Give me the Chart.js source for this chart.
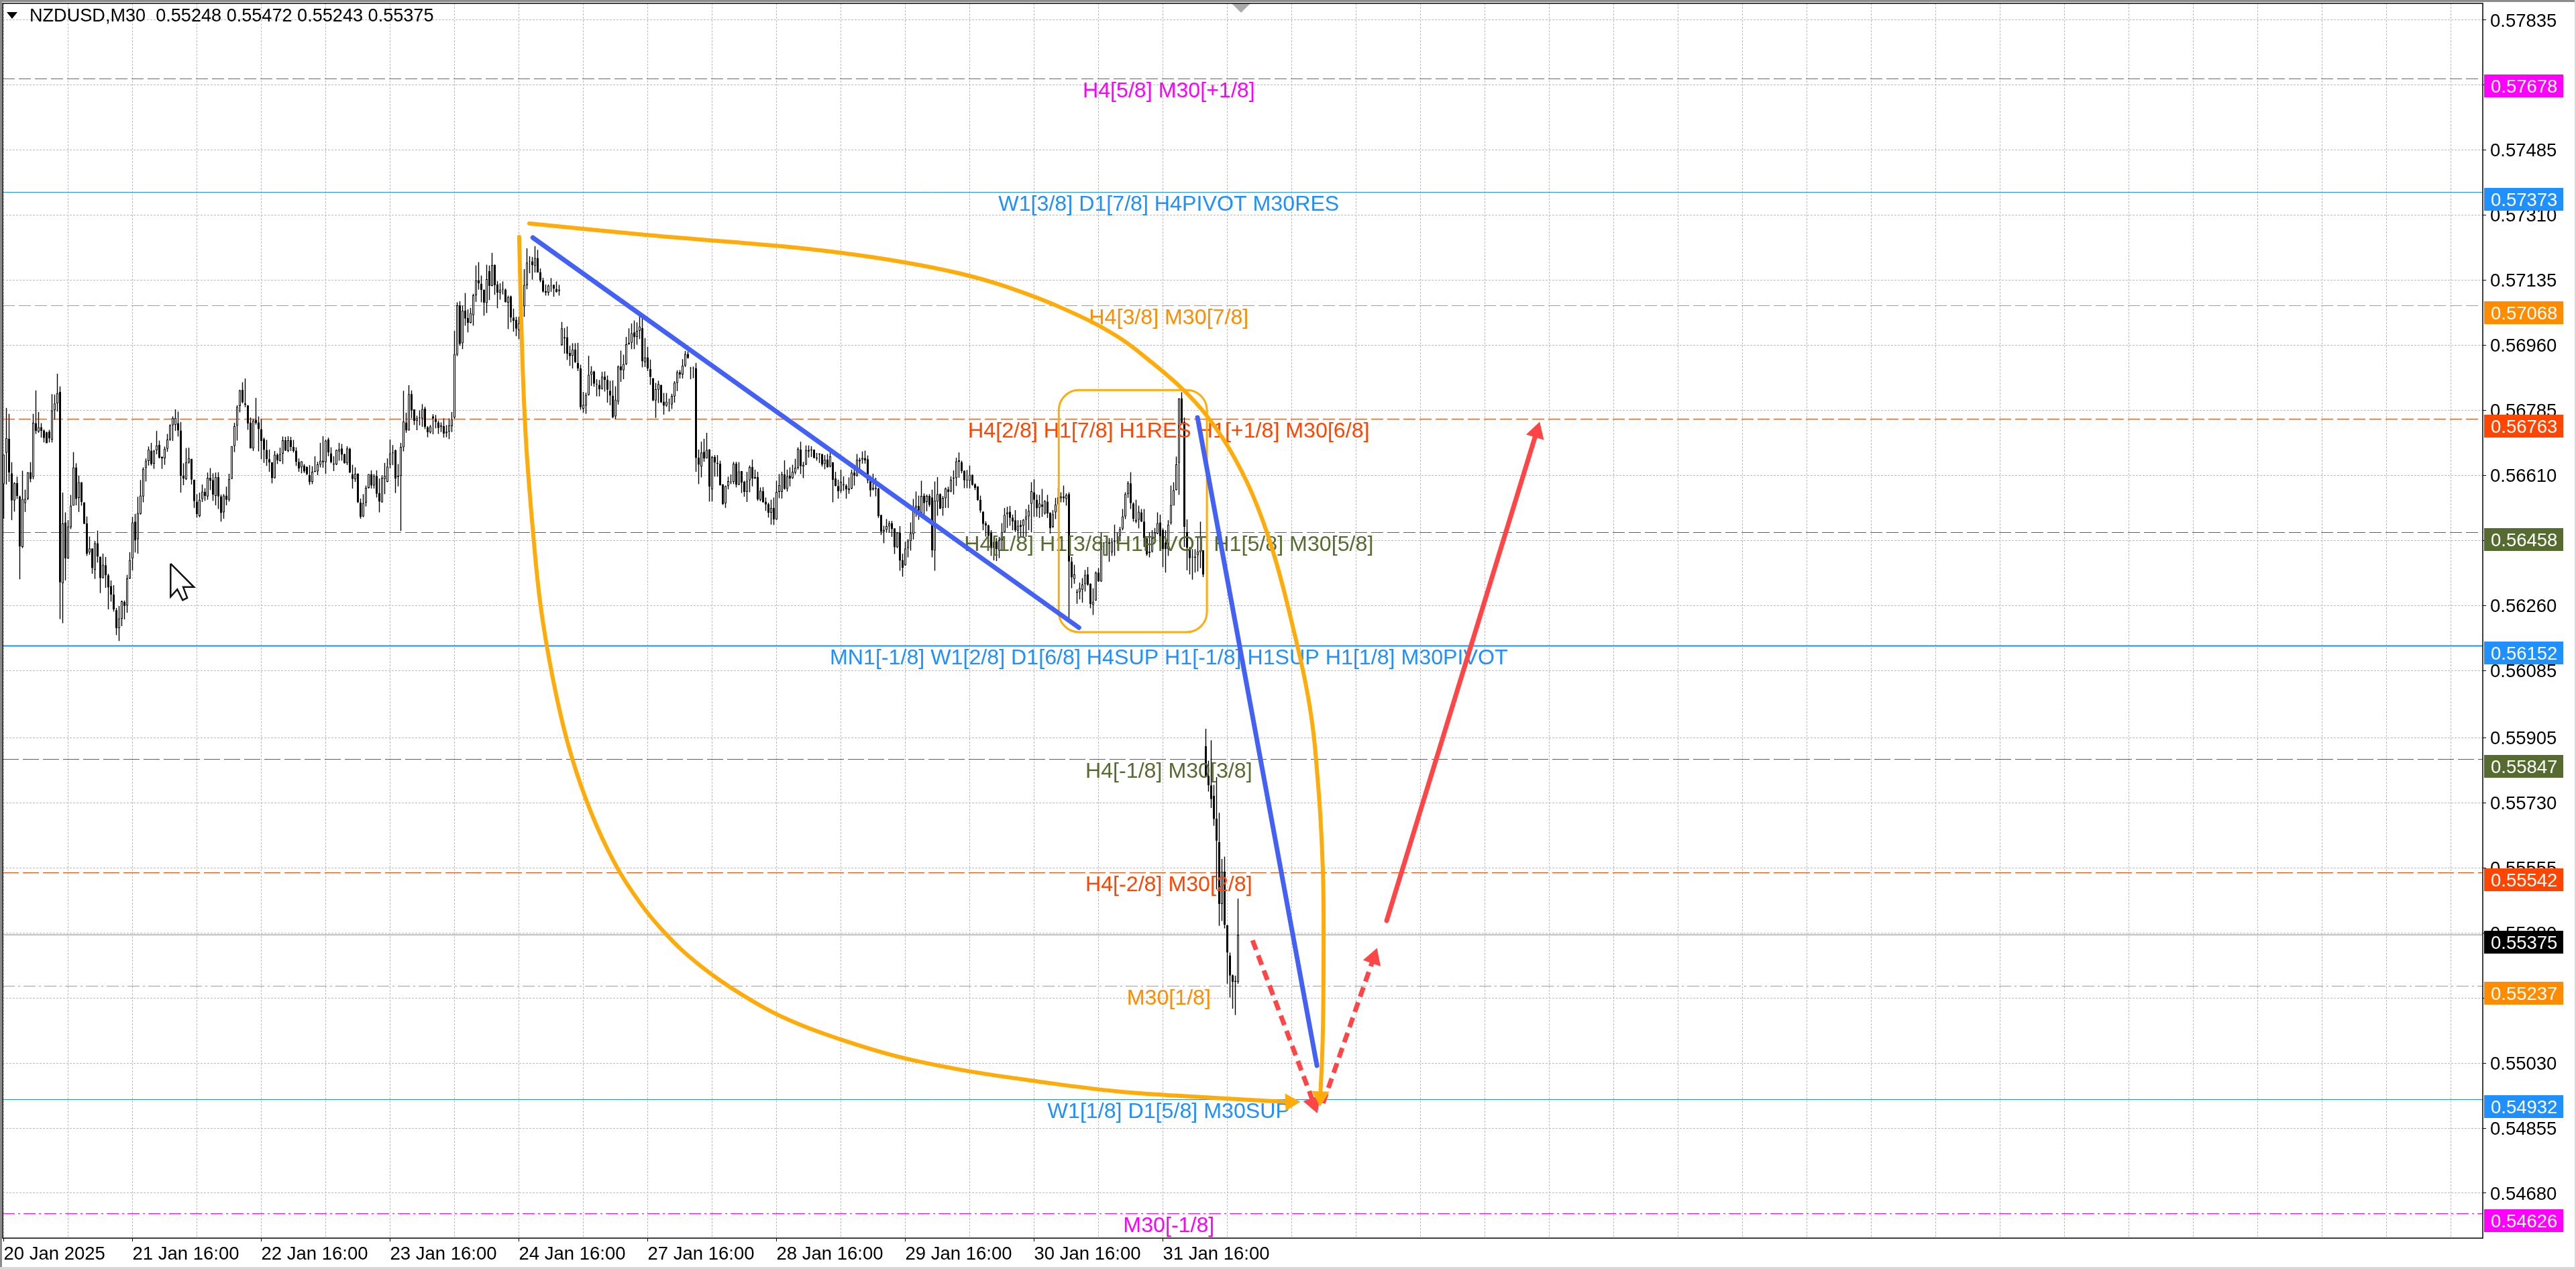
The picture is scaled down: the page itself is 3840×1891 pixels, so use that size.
<!DOCTYPE html>
<html>
<head>
<meta charset="utf-8">
<title>NZDUSD,M30</title>
<script src="https://cdn.jsdelivr.net/npm/chart.js@4/dist/chart.umd.js"></script>
<style>
	html, body { margin: 0; padding: 0; background: #fff; }
	canvas { display: block; }
</style>
</head>
<body>
<canvas id="chart" width="3840" height="1891"></canvas>
<script>
// candles, in points (1 point = 0.00001), one entry per M30 bar, ten bars a line
const opens = [
	56587, 56671, 56709, 56616, 56543, 56590, 56554, 56418, 56536, 56548,
	56619, 56606, 56751, 56728, 56740, 56731, 56726, 56728, 56707, 56786,
	56804, 56835, 56320, 56484, 56387, 56471, 56529, 56632, 56550, 56592,
	56538, 56481, 56403, 56414, 56356, 56428, 56392, 56334, 56369, 56342,
	56313, 56290, 56248, 56199, 56225, 56270, 56260, 56333, 56387, 56486,
	56439, 56507, 56554, 56630, 56649, 56677, 56642, 56678, 56693, 56661,
	56656, 56682, 56707, 56745, 56746, 56751, 56731, 56610, 56600, 56645,
	56655, 56599, 56540, 56501, 56547, 56566, 56554, 56604, 56598, 56555,
	56606, 56554, 56511, 56556, 56545, 56601, 56689, 56744, 56797, 56841,
	56804, 56799, 56752, 56683, 56760, 56753, 56735, 56708, 56679, 56654,
	56646, 56603, 56666, 56649, 56669, 56705, 56676, 56705, 56687, 56677,
	56647, 56632, 56637, 56633, 56611, 56593, 56622, 56621, 56639, 56650,
	56646, 56707, 56670, 56642, 56640, 56675, 56683, 56667, 56643, 56682,
	56613, 56600, 56615, 56537, 56500, 56537, 56577, 56614, 56583, 56609,
	56563, 56538, 56601, 56593, 56639, 56670, 56678, 56606, 56609, 56686,
	56753, 56731, 56829, 56788, 56757, 56766, 56763, 56790, 56740, 56726,
	56769, 56763, 56753, 56740, 56743, 56724, 56728, 56743, 56766, 56935,
	57068, 56966, 57054, 57034, 57021, 57041, 57095, 57135, 57126, 57110,
	57074, 57160, 57120, 57176, 57124, 57102, 57112, 57110, 57075, 57092,
	57035, 57029, 57001, 57004, 57065, 57122, 57185, 57186, 57174, 57195,
	57157, 57135, 57106, 57102, 57120, 57123, 57112, 57106, 56961, 56982,
	56982, 56940, 56932, 56949, 56913, 56898, 56790, 56798, 56827, 56881,
	56890, 56856, 56854, 56843, 56876, 56868, 56838, 56825, 56769, 56809,
	56904, 56893, 56910, 56963, 56967, 56995, 56983, 56999, 57007, 56915,
	56928, 56897, 56872, 56812, 56841, 56854, 56809, 56798, 56806, 56801,
	56823, 56859, 56888, 56882, 56906, 56937, 56899, 56899, 56899, 56658,
	56634, 56674, 56656, 56680, 56573, 56660, 56644, 56642, 56586, 56535,
	56582, 56592, 56593, 56642, 56585, 56622, 56593, 56566, 56597, 56633,
	56602, 56606, 56545, 56568, 56540, 56533, 56510, 56523, 56492, 56566,
	56566, 56613, 56574, 56610, 56603, 56618, 56631, 56680, 56634, 56639,
	56679, 56680, 56680, 56658, 56669, 56667, 56641, 56653, 56634, 56646,
	56602, 56582, 56569, 56586, 56583, 56571, 56575, 56618, 56610, 56652,
	56653, 56657, 56654, 56598, 56572, 56577, 56575, 56504, 56459, 56464,
	56473, 56482, 56468, 56417, 56457, 56383, 56369, 56415, 56434, 56453,
	56522, 56528, 56510, 56556, 56539, 56555, 56551, 56408, 56540, 56560,
	56523, 56549, 56573, 56567, 56602, 56603, 56651, 56646, 56623, 56599,
	56596, 56612, 56587, 56581, 56545, 56513, 56481, 56476, 56456, 56432,
	56433, 56408, 56436, 56458, 56506, 56513, 56497, 56490, 56462, 56477,
	56475, 56491, 56500, 56534, 56565, 56545, 56523, 56532, 56508, 56540,
	56510, 56472, 56511, 56532, 56549, 56554, 56547, 56560, 56379, 56332,
	56297, 56296, 56303, 56318, 56344, 56319, 56262, 56274, 56349, 56325,
	56428, 56429, 56427, 56403, 56432, 56435, 56448, 56467, 56500, 56560,
	56589, 56535, 56486, 56491, 56511, 56486, 56442, 56402, 56406, 56442,
	56454, 56484, 56464, 56430, 56412, 56482, 56529, 56571, 56644, 56818,
	56754, 56458, 56415, 56392, 56389, 56396, 56404, 56409, 55882, 55802,
	55777, 55749, 55687, 55624, 55458, 55545, 55401, 55319, 55266, 55251,
	55248
];
const highs = [
	56666, 56792, 56776, 56646, 56592, 56607, 56556, 56623, 56572, 56619,
	56646, 56776, 56839, 56781, 56751, 56734, 56728, 56733, 56829, 56828,
	56884, 56850, 56564, 56511, 56490, 56558, 56673, 56643, 56610, 56592,
	56538, 56500, 56446, 56414, 56434, 56462, 56392, 56400, 56391, 56346,
	56328, 56315, 56254, 56259, 56274, 56274, 56343, 56404, 56499, 56507,
	56553, 56598, 56632, 56656, 56688, 56698, 56679, 56730, 56704, 56661,
	56688, 56722, 56748, 56769, 56788, 56782, 56754, 56643, 56684, 56685,
	56655, 56599, 56560, 56564, 56586, 56576, 56618, 56630, 56616, 56618,
	56619, 56559, 56560, 56580, 56615, 56689, 56752, 56799, 56841, 56861,
	56871, 56799, 56766, 56763, 56819, 56769, 56762, 56712, 56706, 56680,
	56646, 56676, 56670, 56685, 56715, 56714, 56716, 56714, 56706, 56686,
	56656, 56649, 56641, 56635, 56638, 56635, 56662, 56647, 56698, 56716,
	56707, 56712, 56686, 56662, 56680, 56698, 56695, 56669, 56689, 56685,
	56639, 56632, 56616, 56548, 56560, 56583, 56614, 56624, 56614, 56624,
	56602, 56611, 56644, 56656, 56707, 56692, 56680, 56641, 56698, 56838,
	56779, 56853, 56839, 56788, 56771, 56785, 56802, 56795, 56743, 56746,
	56775, 56773, 56758, 56753, 56764, 56746, 56764, 56781, 56999, 57076,
	57079, 57067, 57101, 57057, 57061, 57099, 57175, 57184, 57148, 57110,
	57177, 57175, 57209, 57178, 57133, 57127, 57132, 57113, 57094, 57094,
	57059, 57037, 57037, 57070, 57165, 57221, 57200, 57198, 57227, 57217,
	57167, 57142, 57124, 57124, 57141, 57124, 57132, 57123, 57023, 57007,
	57011, 56959, 56966, 56966, 56967, 56908, 56835, 56833, 56932, 56904,
	56892, 56869, 56867, 56889, 56890, 56879, 56865, 56866, 56850, 56906,
	56946, 56935, 56983, 57006, 57019, 57027, 57022, 57040, 57034, 56980,
	56956, 56922, 56872, 56859, 56865, 56854, 56832, 56832, 56817, 56830,
	56864, 56893, 56894, 56923, 56945, 56944, 56902, 56903, 56913, 56680,
	56701, 56709, 56725, 56681, 56663, 56665, 56665, 56650, 56587, 56583,
	56607, 56613, 56647, 56647, 56646, 56622, 56596, 56620, 56637, 56653,
	56626, 56620, 56578, 56579, 56551, 56537, 56545, 56551, 56596, 56614,
	56620, 56651, 56626, 56632, 56639, 56655, 56686, 56701, 56647, 56691,
	56691, 56689, 56680, 56671, 56670, 56669, 56665, 56668, 56673, 56646,
	56620, 56599, 56626, 56608, 56587, 56605, 56626, 56634, 56668, 56658,
	56675, 56677, 56664, 56610, 56615, 56604, 56577, 56504, 56475, 56493,
	56488, 56488, 56468, 56458, 56474, 56400, 56432, 56439, 56484, 56547,
	56567, 56556, 56596, 56562, 56559, 56560, 56572, 56594, 56606, 56562,
	56555, 56578, 56580, 56608, 56624, 56658, 56672, 56650, 56624, 56625,
	56637, 56613, 56589, 56581, 56556, 56514, 56487, 56478, 56463, 56445,
	56442, 56445, 56482, 56523, 56526, 56528, 56505, 56517, 56490, 56490,
	56493, 56520, 56532, 56592, 56600, 56559, 56558, 56574, 56544, 56558,
	56511, 56517, 56550, 56577, 56565, 56583, 56562, 56565, 56391, 56370,
	56304, 56322, 56334, 56356, 56364, 56320, 56307, 56352, 56361, 56457,
	56430, 56445, 56442, 56442, 56478, 56457, 56472, 56520, 56565, 56595,
	56619, 56538, 56545, 56529, 56520, 56520, 56442, 56457, 56463, 56469,
	56511, 56505, 56468, 56463, 56490, 56583, 56592, 56661, 56818, 56834,
	56766, 56492, 56418, 56412, 56412, 56445, 56486, 56409, 55929, 55843,
	55898, 55778, 55799, 55703, 55579, 55585, 55401, 55327, 55268, 55265,
	55472
];
const lows = [
	56494, 56586, 56593, 56490, 56513, 56547, 56331, 56415, 56512, 56544,
	56592, 56600, 56722, 56725, 56712, 56699, 56697, 56699, 56699, 56760,
	56782, 56224, 56213, 56328, 56386, 56466, 56529, 56530, 56512, 56529,
	56480, 56394, 56397, 56346, 56332, 56376, 56294, 56333, 56308, 56250,
	56271, 56244, 56181, 56165, 56205, 56223, 56241, 56332, 56355, 56403,
	56400, 56505, 56538, 56594, 56637, 56637, 56628, 56667, 56656, 56628,
	56639, 56674, 56703, 56703, 56730, 56715, 56564, 56584, 56598, 56642,
	56586, 56523, 56497, 56498, 56539, 56542, 56545, 56571, 56542, 56530,
	56520, 56486, 56494, 56530, 56540, 56601, 56673, 56704, 56780, 56804,
	56794, 56733, 56683, 56676, 56747, 56675, 56654, 56644, 56636, 56620,
	56589, 56602, 56641, 56648, 56641, 56676, 56673, 56676, 56672, 56636,
	56620, 56616, 56617, 56611, 56585, 56587, 56619, 56611, 56632, 56631,
	56615, 56662, 56643, 56622, 56638, 56650, 56650, 56642, 56638, 56617,
	56575, 56593, 56536, 56494, 56498, 56527, 56575, 56575, 56575, 56551,
	56511, 56537, 56560, 56592, 56629, 56638, 56563, 56581, 56461, 56675,
	56725, 56731, 56764, 56746, 56732, 56745, 56741, 56735, 56713, 56723,
	56721, 56737, 56722, 56727, 56712, 56713, 56708, 56727, 56763, 56931,
	56959, 56950, 57013, 56995, 57019, 57013, 57077, 57110, 57076, 57040,
	57047, 57082, 57119, 57096, 57060, 57083, 57097, 57076, 57004, 57022,
	56997, 56985, 56977, 56998, 57037, 57111, 57154, 57137, 57156, 57156,
	57130, 57102, 57094, 57094, 57104, 57091, 57102, 57094, 56959, 56938,
	56921, 56905, 56898, 56913, 56891, 56787, 56779, 56776, 56825, 56851,
	56849, 56823, 56823, 56841, 56836, 56806, 56799, 56764, 56762, 56801,
	56862, 56869, 56907, 56962, 56950, 56950, 56962, 56977, 56901, 56902,
	56891, 56854, 56810, 56765, 56805, 56805, 56774, 56795, 56782, 56789,
	56806, 56837, 56871, 56871, 56902, 56924, 56869, 56872, 56620, 56587,
	56605, 56647, 56656, 56540, 56540, 56607, 56607, 56583, 56531, 56523,
	56573, 56587, 56587, 56578, 56584, 56563, 56553, 56539, 56565, 56581,
	56601, 56542, 56541, 56537, 56515, 56497, 56478, 56477, 56491, 56549,
	56548, 56572, 56567, 56581, 56601, 56613, 56626, 56614, 56603, 56638,
	56658, 56660, 56656, 56650, 56644, 56634, 56627, 56631, 56632, 56538,
	56581, 56548, 56563, 56569, 56548, 56561, 56573, 56583, 56607, 56628,
	56642, 56642, 56589, 56553, 56570, 56554, 56496, 56450, 56428, 56456,
	56457, 56445, 56399, 56415, 56354, 56338, 56367, 56390, 56408, 56438,
	56499, 56491, 56508, 56496, 56514, 56526, 56390, 56354, 56502, 56520,
	56502, 56523, 56523, 56565, 56559, 56582, 56604, 56616, 56576, 56576,
	56575, 56583, 56571, 56542, 56510, 56463, 56446, 56430, 56394, 56382,
	56380, 56388, 56409, 56457, 56469, 56475, 56463, 56458, 56442, 56445,
	56442, 56445, 56463, 56457, 56499, 56499, 56496, 56499, 56505, 56496,
	56454, 56469, 56493, 56511, 56538, 56538, 56529, 56226, 56307, 56319,
	56265, 56277, 56268, 56298, 56314, 56253, 56235, 56273, 56324, 56324,
	56394, 56394, 56378, 56394, 56394, 56427, 56433, 56463, 56493, 56550,
	56520, 56486, 56482, 56468, 56485, 56418, 56394, 56390, 56403, 56439,
	56452, 56418, 56364, 56349, 56394, 56478, 56558, 56570, 56558, 56750,
	56418, 56355, 56344, 56330, 56349, 56352, 56361, 56337, 55801, 55760,
	55716, 55668, 55497, 55399, 55412, 55392, 55243, 55206, 55176, 55159,
	55243
];
const closes = [
	56666, 56711, 56618, 56543, 56590, 56555, 56419, 56547, 56547, 56619,
	56601, 56752, 56730, 56740, 56730, 56711, 56697, 56710, 56785, 56804,
	56832, 56323, 56481, 56387, 56473, 56529, 56632, 56547, 56592, 56539,
	56480, 56400, 56414, 56361, 56428, 56392, 56334, 56370, 56342, 56309,
	56290, 56250, 56199, 56226, 56272, 56259, 56333, 56383, 56484, 56435,
	56509, 56556, 56628, 56650, 56680, 56641, 56677, 56691, 56658, 56656,
	56682, 56707, 56745, 56765, 56765, 56731, 56609, 56602, 56646, 56657,
	56599, 56541, 56506, 56545, 56567, 56555, 56604, 56596, 56559, 56606,
	56554, 56509, 56556, 56545, 56601, 56689, 56743, 56795, 56839, 56807,
	56800, 56750, 56683, 56758, 56751, 56735, 56703, 56679, 56654, 56645,
	56603, 56666, 56651, 56668, 56705, 56677, 56705, 56687, 56676, 56647,
	56629, 56648, 56621, 56614, 56592, 56620, 56620, 56640, 56650, 56646,
	56704, 56672, 56646, 56640, 56679, 56681, 56666, 56643, 56683, 56618,
	56601, 56615, 56538, 56499, 56536, 56577, 56614, 56583, 56609, 56561,
	56540, 56604, 56609, 56634, 56670, 56672, 56602, 56610, 56687, 56755,
	56731, 56829, 56785, 56757, 56764, 56764, 56789, 56741, 56726, 56742,
	56763, 56754, 56738, 56745, 56723, 56728, 56745, 56762, 56937, 57068,
	56964, 57054, 57032, 57021, 57047, 57095, 57135, 57127, 57109, 57075,
	57138, 57120, 57176, 57122, 57102, 57110, 57110, 57076, 57090, 57035,
	57026, 57005, 57019, 57064, 57123, 57183, 57186, 57176, 57195, 57156,
	57134, 57105, 57102, 57121, 57121, 57113, 57104, 57110, 57006, 56979,
	56938, 56931, 56949, 56915, 56898, 56794, 56800, 56827, 56881, 56890,
	56857, 56855, 56842, 56876, 56867, 56841, 56825, 56767, 56814, 56903,
	56893, 56910, 56963, 56967, 56993, 56982, 56999, 57011, 56917, 56928,
	56898, 56875, 56812, 56842, 56856, 56807, 56798, 56809, 56805, 56824,
	56860, 56888, 56882, 56906, 56937, 56927, 56900, 56900, 56657, 56639,
	56672, 56656, 56679, 56580, 56660, 56645, 56642, 56584, 56533, 56582,
	56595, 56594, 56642, 56585, 56621, 56591, 56566, 56596, 56633, 56602,
	56606, 56546, 56569, 56538, 56532, 56510, 56523, 56492, 56566, 56584,
	56613, 56574, 56608, 56602, 56620, 56631, 56682, 56635, 56639, 56679,
	56675, 56678, 56657, 56656, 56667, 56639, 56653, 56633, 56662, 56598,
	56582, 56568, 56593, 56584, 56573, 56575, 56618, 56610, 56653, 56648,
	56657, 56651, 56597, 56570, 56577, 56574, 56501, 56459, 56464, 56474,
	56481, 56466, 56417, 56457, 56381, 56362, 56414, 56435, 56454, 56522,
	56529, 56514, 56555, 56536, 56555, 56531, 56409, 56543, 56560, 56521,
	56550, 56575, 56566, 56599, 56604, 56648, 56647, 56622, 56597, 56597,
	56612, 56585, 56577, 56544, 56516, 56480, 56476, 56448, 56415, 56415,
	56412, 56436, 56458, 56504, 56511, 56496, 56486, 56463, 56475, 56472,
	56491, 56500, 56515, 56568, 56545, 56522, 56535, 56526, 56541, 56508,
	56468, 56506, 56532, 56552, 56554, 56549, 56558, 56379, 56336, 56344,
	56295, 56307, 56317, 56343, 56316, 56264, 56271, 56349, 56326, 56430,
	56430, 56433, 56430, 56432, 56435, 56436, 56466, 56500, 56560, 56590,
	56536, 56494, 56491, 56513, 56486, 56442, 56398, 56406, 56442, 56457,
	56482, 56430, 56412, 56412, 56478, 56531, 56571, 56640, 56817, 56752,
	56472, 56416, 56388, 56390, 56392, 56406, 56409, 56344, 55801, 55777,
	55740, 55686, 55628, 55458, 55545, 55402, 55327, 55265, 55248, 55248,
	55375
];

const yTicks = [0.57835, 0.57660, 0.57485, 0.57310, 0.57135, 0.56960, 0.56785, 0.56610, 0.56435, 0.56260,
	0.56085, 0.55905, 0.55730, 0.55555, 0.55380, 0.55205, 0.55030, 0.54855, 0.54680];
const xTickLabels = ['20 Jan 2025', '21 Jan 16:00', '22 Jan 16:00', '23 Jan 16:00', '24 Jan 16:00',
	'27 Jan 16:00', '28 Jan 16:00', '29 Jan 16:00', '30 Jan 16:00', '31 Jan 16:00'];

// murrey style levels
const levelPrices = [0.57678, 0.57373, 0.57068, 0.56763, 0.56458, 0.56152, 0.55847, 0.55542, 0.55237, 0.54932, 0.54626];
const levelColors = ['#FF00FF', '#1E90FF', '#FF8C00', '#FF4500', '#556B2F', '#1E90FF', '#556B2F', '#FF4500', '#FF8C00', '#1E90FF', '#FF00FF'];
const levelTexts = [
	'H4[5/8] M30[+1/8]',
	'W1[3/8] D1[7/8] H4PIVOT M30RES',
	'H4[3/8] M30[7/8]',
	'H4[2/8] H1[7/8] H1RES H1[+1/8] M30[6/8]',
	'H4[1/8] H1[3/8] H1PIVOT H1[5/8] M30[5/8]',
	'MN1[-1/8] W1[2/8] D1[6/8] H4SUP H1[-1/8] H1SUP H1[1/8] M30PIVOT',
	'H4[-1/8] M30[3/8]',
	'H4[-2/8] M30[2/8]',
	'M30[1/8]',
	'W1[1/8] D1[5/8] M30SUP',
	'M30[-1/8]'
];
const levelDashes = [[18, 6], [], [18, 6], [18, 6], [18, 6], [], [24, 6], [24, 6], [18, 5, 3, 5], [], [18, 5, 3, 5]];
const levelWidths = [1, 1, 1, 1, 1, 2, 1, 1, 1, 1, 1];
const lastPrice = 0.55375;

// hand drawn objects, x in bars, y in price
const curveDownBars = [192.1, 193.1, 194.6, 197.1, 200.1, 204.6, 210.1, 216.9, 225.1, 234.6, 246.4, 259.4, 275.1, 292.9, 312.1, 333.9, 358.1, 384.9, 414.9, 447.1, 479.5];
const curveDownPrices = [0.57252, 0.56968, 0.56708, 0.56472, 0.56259, 0.56066, 0.55893, 0.55741, 0.55604, 0.55487, 0.55380, 0.55293, 0.55214, 0.55145, 0.55093, 0.55046, 0.55010, 0.54981, 0.54954, 0.54938, 0.54925];
const curveOverBars = [195.9, 239.9, 288.1, 312.1, 336.1, 356.1, 373.6, 394.9, 414.4, 427.9, 439.4, 447.9, 456.9, 465.4, 472.9, 479.9, 486.6, 489.9, 491.6, 491.9, 491.6, 490.7];
const curveOverPrices = [0.57288, 0.57257, 0.57228, 0.57209, 0.57183, 0.57154, 0.57118, 0.57059, 0.56987, 0.56914, 0.56842, 0.56775, 0.56680, 0.56559, 0.56409, 0.56219, 0.55994, 0.55774, 0.55551, 0.55367, 0.55109, 0.54940];
const trendBars = [197.2, 400.7];
const trendPrices = [0.57250, 0.56201];
const dropBars = [444.9, 489.4];
const dropPrices = [0.56766, 0.55023];
const riseBars = [515.4, 571.25];
const risePrices = [0.55413, 0.56727];
const dashDownBars = [465.4, 488.2];
const dashDownPrices = [0.55360, 0.54922];
const dashUpBars = [491.7, 510.5];
const dashUpPrices = [0.54922, 0.55312];
const boxBars = [393.2, 448.4];
const boxPrices = [0.56840, 0.56189];
const cursorBars = [62.2, 70.9, 66.9, 68.4, 66.7, 64.7, 62.2, 62.2];
const cursorPrices = [0.56373, 0.56310, 0.56310, 0.56281, 0.56275, 0.56304, 0.56284, 0.56373];

const POINT = 100000;
const ORANGE = '#FFAC0A';
const BLUE = '#4361F5';
const RED = '#FF4545';
const FONT = '"Liberation Sans", Arial, sans-serif';

const barsIndex = opens.map((o, i) => i);
const wicks = barsIndex.map(i => ({ x: i, y: [lows[i] / POINT, highs[i] / POINT] }));
const bodies = barsIndex.map(i => ({ x: i, y: [opens[i] / POINT, closes[i] / POINT] }));

function points(bars, prices) {
	return bars.map((b, i) => ({ x: b, y: prices[i] }));
}

// a drawn line, optional arrow head on its last point
function drawn(bars, prices, color, width, extra, headSize, headAngle) {
	const last = bars.length - 1;
	return Object.assign({
		type: 'line',
		data: points(bars, prices),
		borderColor: color,
		backgroundColor: color,
		borderWidth: width,
		borderCapStyle: 'round',
		fill: false,
		tension: 0,
		order: 1,
		pointStyle: 'triangle',
		pointBorderWidth: 0,
		pointRadius: ctx => (headSize && ctx.dataIndex === last ? headSize : 0),
		pointRotation: headAngle || 0
	}, extra || {});
}

const xMin = -0.375;
const xMax = xMin + 3697 / 4;

const levelSets = levelPrices.map((p, i) => ({
	type: 'line',
	data: [{ x: xMin, y: p }, { x: xMax, y: p }],
	borderColor: levelColors[i],
	borderWidth: levelWidths[i],
	borderDash: levelDashes[i],
	pointRadius: 0,
	snapPrice: p,
	order: 30
}));

const datasets = levelSets.concat([
	{ type: 'line', data: [{ x: xMin, y: lastPrice }, { x: xMax, y: lastPrice }], borderColor: '#C0C0C0', borderWidth: 2, pointRadius: 0, order: 29 },
	{ label: 'wicks', data: wicks, barThickness: 1.4, backgroundColor: '#000', borderWidth: 0, inflateAmount: 0, grouped: false, order: 21 },
	{
		label: 'bodies',
		data: bodies,
		barThickness: 3,
		backgroundColor: barsIndex.map(i => (closes[i] >= opens[i] ? '#fff' : '#000')),
		borderColor: '#000',
		borderWidth: 1,
		borderSkipped: false,
		inflateAmount: 0,
		grouped: false,
		order: 20
	},
	drawn(cursorBars, cursorPrices, '#111', 2.5, { borderCapStyle: 'butt', borderJoinStyle: 'miter' }),
	drawn(curveDownBars, curveDownPrices, ORANGE, 6, { tension: 0.4 }, 15, 88),
	drawn(curveOverBars, curveOverPrices, ORANGE, 6, { tension: 0.4 }, 15, 182),
	drawn(trendBars, trendPrices, BLUE, 7),
	drawn(dropBars, dropPrices, BLUE, 7),
	drawn(riseBars, risePrices, RED, 7, {}, 16, 17),
	drawn(dashDownBars, dashDownPrices, RED, 7, { borderDash: [15, 9], borderCapStyle: 'butt' }, 16, 160),
	drawn(dashUpBars, dashUpPrices, RED, 7, { borderDash: [15, 9], borderCapStyle: 'butt' }, 16, 19)
]);

// level texts sit over the candles, under the drawn objects
const overlay = {
	id: 'overlay',
	// pin the plot to the terminal's frame, chart.js reserves room for overhanging labels
	afterLayout(chart) {
		const a = chart.chartArea;
		const { x, y } = chart.scales;
		Object.assign(a, { left: 4, right: 3701, top: 5, bottom: 1845, width: 3697, height: 1840 });
		Object.assign(x, { left: 4, right: 3701, top: 1845, bottom: 1891, width: 3697, height: 46 });
		Object.assign(y, { left: 3701, right: 3840, top: 5, bottom: 1845, width: 139, height: 1840 });
		x.configure();
		y.configure();
	},
	beforeDraw(chart) {
		const c = chart.ctx;
		c.save();
		c.fillStyle = '#fff';
		c.fillRect(0, 0, chart.width, chart.height);
		c.fillStyle = '#8c8c8c';
		c.fillRect(0, 0, chart.width, 3);
		c.fillRect(0, 0, 3, chart.height);
		c.fillStyle = '#d8d8d8';
		c.fillRect(chart.width - 2, 0, 2, chart.height);
		c.fillRect(0, chart.height - 3, chart.width, 3);
		c.restore();
	},
	// one pixel level lines stay sharp on the pixel grid
	beforeDatasetDraw(chart, args) {
		const p = chart.data.datasets[args.index].snapPrice;
		if (p === undefined) return;
		const py = chart.scales.y.getPixelForValue(p);
		chart.ctx.save();
		chart.ctx.translate(0, Math.round(py) + 0.5 - py);
	},
	afterDatasetDraw(chart, args) {
		const ds = chart.data.datasets[args.index];
		if (ds.snapPrice !== undefined) chart.ctx.restore();
		if (ds.label !== 'bodies') return;
		const c = chart.ctx;
		const { x, y } = chart.scales;
		c.save();
		c.font = '32.2px ' + FONT;
		c.textAlign = 'center';
		c.textBaseline = 'middle';
		levelTexts.forEach((t, i) => {
			c.fillStyle = levelColors[i];
			c.fillText(t, x.getPixelForValue(434.2), y.getPixelForValue(levelPrices[i]) + 19);
		});
		c.strokeStyle = ORANGE;
		c.lineWidth = 3;
		c.beginPath();
		const bx0 = x.getPixelForValue(boxBars[0]);
		const bx1 = x.getPixelForValue(boxBars[1]);
		const by0 = y.getPixelForValue(boxPrices[0]);
		const by1 = y.getPixelForValue(boxPrices[1]);
		c.roundRect(bx0, by0, bx1 - bx0, by1 - by0, 30);
		c.stroke();
		c.restore();
	},
	afterDraw(chart) {
		const c = chart.ctx;
		const a = chart.chartArea;
		const y = chart.scales.y;
		c.save();
		c.fillStyle = '#ababab';
		c.beginPath();
		c.moveTo(1836, 5);
		c.lineTo(1864, 5);
		c.lineTo(1850, 19);
		c.fill();

		c.strokeStyle = '#000';
		c.lineWidth = 1.5;
		c.strokeRect(a.left, a.top, a.right - a.left, a.bottom - a.top);

		c.font = '27.5px ' + FONT;
		c.textBaseline = 'middle';
		c.textAlign = 'left';
		const box = (price, color) => {
			const py = Math.round(y.getPixelForValue(price));
			c.fillStyle = color;
			c.fillRect(a.right + 2, py - 6, 118, 34);
			c.fillStyle = '#fff';
			c.fillText(price.toFixed(5), a.right + 12, py + 13);
		};
		levelPrices.forEach((p, i) => box(p, levelColors[i]));
		box(lastPrice, '#000');

		c.font = '27.1px ' + FONT;
		c.fillStyle = '#000';
		c.fillText('NZDUSD,M30  0.55248 0.55472 0.55243 0.55375', 44, 25);
		c.beginPath();
		c.moveTo(10, 18);
		c.lineTo(26, 18);
		c.lineTo(18, 28);
		c.fill();
		c.restore();
	}
};

new Chart(document.getElementById('chart'), {
	type: 'bar',
	data: { datasets: datasets },
	plugins: [overlay],
	options: {
		responsive: false,
		animation: false,
		devicePixelRatio: 1,
		plugins: { legend: { display: false }, tooltip: { enabled: false } },
		scales: {
			x: {
				type: 'linear',
				min: xMin,
				max: xMax,
				offset: false,
				afterBuildTicks: s => {
					const t = [];
					for (let b = 0; b <= 912; b += 24) t.push({ value: b });
					s.ticks = t;
				},
				grid: {
					offset: false,
					color: '#BBBBBB',
					lineWidth: 1,
					tickLength: 5,
					tickColor: ctx => (ctx.tick && ctx.tick.value % 48 === 0 && ctx.tick.value / 48 < xTickLabels.length ? '#000' : 'rgba(0,0,0,0)')
				},
				border: { display: false, dash: [3, 2] },
				ticks: {
					autoSkip: false,
					maxRotation: 0,
					minRotation: 0,
					align: 'start',
					padding: 3,
					color: '#000',
					font: { family: FONT, size: 27.5 },
					callback: v => (v % 48 === 0 ? xTickLabels[v / 48] || '' : '')
				}
			},
			y: {
				position: 'right',
				min: 0.54559,
				max: 0.57880,
				afterBuildTicks: s => { s.ticks = yTicks.map(v => ({ value: v })); },
				grid: { color: '#BBBBBB', lineWidth: 1, tickLength: 5, tickColor: '#000' },
				border: { display: false, dash: [3, 2] },
				ticks: {
					autoSkip: false,
					padding: 6,
					labelOffset: 2,
					color: '#000',
					font: { family: FONT, size: 27.5 },
					callback: v => v.toFixed(5)
				}
			}
		}
	}
});
</script>
</body>
</html>
